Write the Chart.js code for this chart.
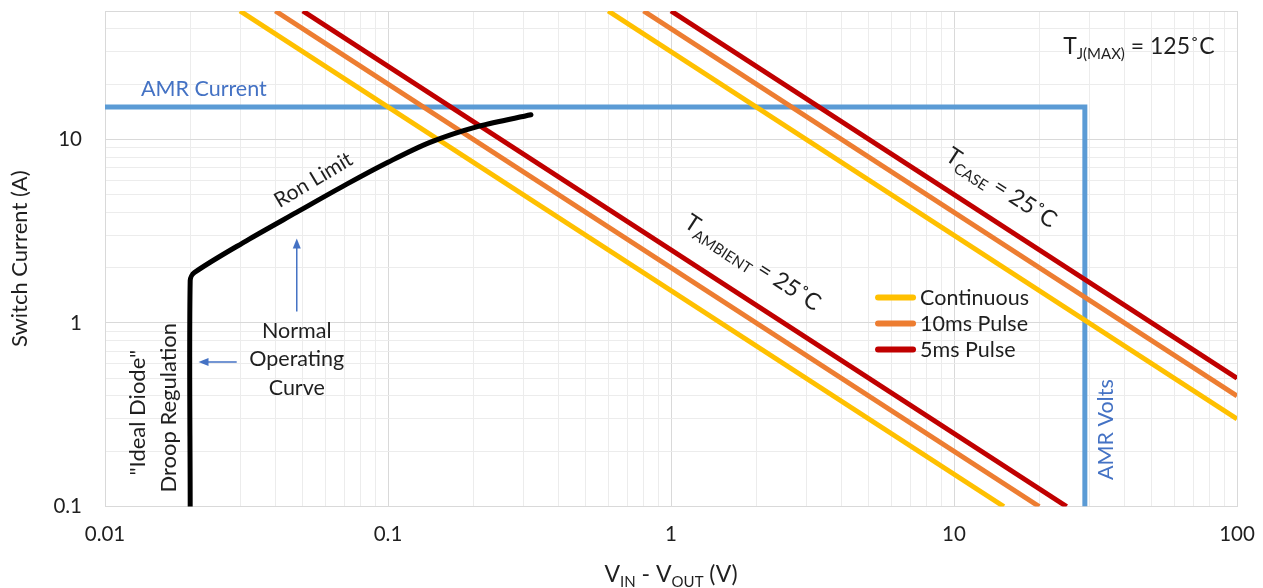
<!DOCTYPE html>
<html>
<head>
<meta charset="utf-8">
<script src="https://cdn.jsdelivr.net/npm/chart.js@4.4.1/dist/chart.umd.min.js"></script>
<style>
  html, body { margin: 0; padding: 0; background: #fff; }
</style>
</head>
<body>
<canvas id="socChart" width="1263" height="588"></canvas>
<script>
// SOA curves (V, A)
const seriesNames = ['Continuous', '10ms Pulse', '5ms Pulse'];
const seriesColors = ['#ffc000', '#ed7d31', '#c00000'];

// T_AMBIENT = 25C lines, end points
const ambientX = [[0.03, 15], [0.04, 20], [0.05, 25]];
const ambientY = [[50, 0.1], [50, 0.1], [50, 0.1]];

// T_CASE = 25C lines, end points
const caseX = [[0.6, 100], [0.8, 100], [1, 100]];
const caseY = [[50, 0.3], [50, 0.4], [50, 0.5]];

// normal operating curve (droop regulation + Ron limit)
const ronX = [0.02, 0.02, 0.0207, 0.0317, 0.0475, 0.0715, 0.1, 0.14, 0.21, 0.32];
const ronY = [0.1, 1.7, 1.88, 2.81, 4.0, 5.7, 7.5, 9.6, 11.8, 13.6];

// absolute max ratings box
const amrX = [0.01, 29, 29];
const amrY = [15, 15, 0.1];

const xTickLabels = ['0.01', '0.1', '1', '10', '100'];
const yTickLabels = ['0.1', '1', '10'];

const FONT = 'Lato';
const TEXT = '#1f1f1f';
const BLUE_TXT = '#4472c4';

const pts = (xs, ys) => xs.map((v, i) => ({ x: v, y: ys[i] }));

// gridlines at 1..9 x each decade
function gridValues(min, max) {
  const out = [];
  for (let e = Math.floor(Math.log10(min)); e <= Math.ceil(Math.log10(max)); e++) {
    for (let m = 1; m < 10; m++) {
      const v = +(m * Math.pow(10, e)).toPrecision(6);
      if (v >= min - 1e-12 && v <= max + 1e-12) out.push(v);
    }
  }
  return out;
}
const isDecade = v => Math.abs(Math.log10(v) - Math.round(Math.log10(v))) < 1e-6;

const datasets = [];
datasets.push({
  label: 'Normal Operating Curve',
  data: pts(ronX, ronY),
  borderColor: '#000',
  borderWidth: 5,
  tension: 0.3,
  borderCapStyle: 'round',
  borderJoinStyle: 'round',
  clip: 0
});
for (let i = 2; i >= 0; i--) {
  datasets.push({
    label: seriesNames[i] + ' (case)',
    data: pts(caseX[i], caseY[i]),
    borderColor: seriesColors[i],
    borderWidth: 5,
    clip: 0
  });
  datasets.push({
    label: seriesNames[i] + ' (ambient)',
    data: pts(ambientX[i], ambientY[i]),
    borderColor: seriesColors[i],
    borderWidth: 5,
    clip: 0
  });
}
datasets.push({
  label: 'AMR',
  data: pts(amrX, amrY),
  borderColor: '#5b9bd5',
  borderWidth: 5,
  borderJoinStyle: 'miter',
  clip: 0
});

// text with subscripts: parts = [text, size, dy]
function richText(ctx, parts, cx, cy, rot, align, color) {
  ctx.save();
  ctx.translate(cx, cy);
  ctx.rotate(rot * Math.PI / 180);
  ctx.fillStyle = color || TEXT;
  ctx.textBaseline = 'alphabetic';
  ctx.textAlign = 'left';
  let w = 0;
  parts.forEach(p => { ctx.font = p[1] + 'px ' + FONT; w += ctx.measureText(p[0]).width; });
  let xx = align === 'left' ? 0 : -w / 2;
  parts.forEach(p => {
    ctx.font = p[1] + 'px ' + FONT;
    ctx.fillText(p[0], xx, p[2] || 0);
    xx += ctx.measureText(p[0]).width;
  });
  ctx.restore();
}

function arrow(ctx, x0, y0, x1, y1) {
  const a = Math.atan2(y1 - y0, x1 - x0);
  ctx.save();
  ctx.strokeStyle = BLUE_TXT;
  ctx.fillStyle = BLUE_TXT;
  ctx.lineWidth = 1.5;
  ctx.beginPath();
  ctx.moveTo(x0, y0);
  ctx.lineTo(x1 - 6 * Math.cos(a), y1 - 6 * Math.sin(a));
  ctx.stroke();
  ctx.beginPath();
  ctx.moveTo(x1, y1);
  ctx.lineTo(x1 - 10 * Math.cos(a) + 4 * Math.sin(a), y1 - 10 * Math.sin(a) - 4 * Math.cos(a));
  ctx.lineTo(x1 - 10 * Math.cos(a) - 4 * Math.sin(a), y1 - 10 * Math.sin(a) + 4 * Math.cos(a));
  ctx.closePath();
  ctx.fill();
  ctx.restore();
}

const notes = {
  id: 'notes',
  afterDatasetsDraw(chart) {
    const { ctx, scales: { x, y }, chartArea } = chart;
    const px = v => x.getPixelForValue(v);
    const py = v => y.getPixelForValue(v);

    richText(ctx, [['AMR Current', 21.5]], px(0.0134), py(18.8) + 7.5, 0, 'left', BLUE_TXT);
    richText(ctx, [['T', 23], ['J(MAX)', 15, 5], [' = 125˚C', 23]], px(24.3), py(32.2) + 8, 0, 'left');
    richText(ctx, [['T', 23], ['CASE', 15, 5], [' = 25˚C', 23]], px(14.2), py(5.5) + 7, 33, 'center');
    richText(ctx, [['T', 23], ['AMBIENT', 15, 5], [' = 25˚C', 23]], px(1.88), py(2.15) + 7, 33, 'center');
    richText(ctx, [['Ron Limit', 21]], px(0.0561), py(6.1) + 7, -31, 'center');

    richText(ctx, [['Normal', 21.5]], px(0.0476), py(0.91) + 7.5, 0, 'center');
    richText(ctx, [['Operating', 21.5]], px(0.0476), py(0.641) + 7.5, 0, 'center');
    richText(ctx, [['Curve', 21.5]], px(0.0476), py(0.446) + 7.5, 0, 'center');
    richText(ctx, [['"Ideal Diode"', 22]], px(0.0138), py(0.356) + 7.5, -90, 'center');
    richText(ctx, [['Droop Regulation', 22]], px(0.0178), py(0.379) + 7.5, -90, 'center');
    richText(ctx, [['AMR Volts', 21.5]], px(36.5), py(0.288) + 7.5, -90, 'center', BLUE_TXT);

    arrow(ctx, px(0.0476), py(1.155), px(0.0476), py(2.88));
    arrow(ctx, px(0.0292), py(0.612), px(0.0214), py(0.612));

    // legend
    const lx = px(5.39), ly = py(1.376);
    seriesNames.forEach((name, i) => {
      const yy = ly + i * 26;
      ctx.save();
      ctx.strokeStyle = seriesColors[i];
      ctx.lineWidth = 6;
      ctx.lineCap = 'round';
      ctx.beginPath();
      ctx.moveTo(lx, yy);
      ctx.lineTo(lx + 35, yy);
      ctx.stroke();
      ctx.restore();
      richText(ctx, [[name, 21.5]], lx + 42, yy + 7.5, 0, 'left');
    });

    // x axis title
    const cx = (chartArea.left + chartArea.right) / 2;
    richText(ctx, [['V', 23], ['IN', 15, 5], [' - V', 23], ['OUT', 15, 5], [' (V)', 23]], cx, 582, 0, 'center');
  }
};

new Chart(document.getElementById('socChart').getContext('2d'), {
  type: 'line',
  data: { datasets: datasets },
  options: {
    responsive: false,
    animation: false,
    layout: { padding: { top: 11, right: 26, left: 0, bottom: 0 } },
    elements: { point: { radius: 0 } },
    plugins: { legend: { display: false }, tooltip: { enabled: false } },
    scales: {
      x: {
        type: 'logarithmic',
        min: 0.01,
        max: 100,
        afterBuildTicks: s => { s.ticks = gridValues(0.01, 100).map(v => ({ value: v, major: isDecade(v) })); },
        afterFit: s => { s.height = 81.5; s.paddingLeft = 0; s.paddingRight = 0; },
        grid: { color: c => (c.tick && isDecade(c.tick.value)) ? '#d9d9d9' : '#ececec', drawTicks: false },
        border: { color: '#d9d9d9' },
        ticks: {
          autoSkip: false, maxRotation: 0, padding: 16, color: TEXT,
          font: { family: FONT, size: 20.5 },
          callback: v => xTickLabels.find(l => Math.abs(Number(l) - v) < 1e-9) || ''
        }
      },
      y: {
        type: 'logarithmic',
        min: 0.1,
        max: 50,
        afterBuildTicks: s => { s.ticks = gridValues(0.1, 50).map(v => ({ value: v, major: isDecade(v) })); },
        afterFit: s => { s.width = 105; s.paddingTop = 0; s.paddingBottom = 0; },
        grid: { color: c => (c.tick && (isDecade(c.tick.value) || c.tick.value === 50)) ? '#d9d9d9' : '#ececec', drawTicks: false },
        border: { color: '#d9d9d9' },
        ticks: {
          autoSkip: false, padding: 23, color: TEXT,
          font: { family: FONT, size: 20.5 },
          callback: v => yTickLabels.find(l => Math.abs(Number(l) - v) < 1e-9) || ''
        },
        title: {
          display: true, text: 'Switch Current (A)', color: TEXT,
          font: { family: FONT, size: 22 }, padding: { top: 7, bottom: 0 }
        }
      }
    }
  },
  plugins: [notes]
});
</script>
</body>
</html>
